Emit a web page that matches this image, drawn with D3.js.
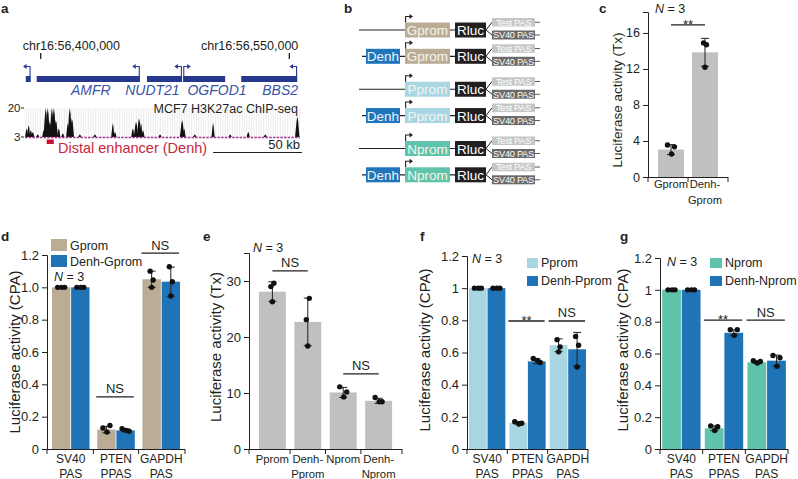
<!DOCTYPE html>
<html><head><meta charset="utf-8">
<script src="https://cdn.jsdelivr.net/npm/d3@7"></script>
<style>
body{margin:0;background:#fff;}
svg{display:block;}
</style></head><body>
<svg id="fig" width="798" height="479"></svg>
<script>
// ================= DATA =================
// ---- panel a ----
const chrTickPos = [56400000, 56550000];
const chrTickLabels = ["chr16:56,400,000", "chr16:56,550,000"];
const geneNames   = ["", "AMFR", "NUDT21", "OGFOD1", "BBS2"];
const geneStart   = [56391000, 56397600, 56464100, 56485900, 56521000];
const geneEnd     = [56394000, 56459900, 56485300, 56511300, 56554800];
const geneStrand  = ["-", "-", "-", "+", "-"];
const geneLabelAt = [null, 56430200, 56467400, 56506400, 56544500];
const chipPeakKb  = [-8.5,-7.3,-6.0,-4.8,-1.8,1.8,3.0,4.2,5.4,6.7,7.9,9.1,10.9,13.3,16.3,17.5,18.8,23.6,32.7,43.5,44.8,55.6,57.5,59.3,60.5,61.7,72,85.3,86.5,93,104,114.3,125.2,135.5,154.8];
const chipPeakVal = [8,10,7,6,4.5,7,20,20,12,20,20,13,8,5,11,20,14,4.5,4.5,11,6,8,12,14,11,7,4.5,13,8,4.5,11,4.5,6,4.5,15];
const chipRange   = [3, 20];
const enhancerBp  = [56403600, 56407900];
const scaleBarKb  = 50;

// ---- panel b ----
const bHasEnh   = [0, 1, 0, 1, 0, 1];
const bPromoter = ["Gprom", "Gprom", "Pprom", "Pprom", "Nprom", "Nprom"];
const bPAS      = ["Test PAS", "SV40 PAS"];

// ---- panel c ----
const cCats   = ["Gprom", "Denh-Gprom"];
const cMeans  = [3.05, 13.85];
const cErr    = [0.55, 1.55];
const cPoints = [[3.55, 3.35, 2.55], [14.9, 14.7, 12.2]];
const cTicks  = [0, 4, 8, 12, 16];

// ---- panel d ----
const dGroups = ["SV40 PAS", "PTEN PPAS", "GAPDH PAS"];
const dSeries = ["Gprom", "Denh-Gprom"];
const dMeans  = [[1.0, 0.12, 1.05], [1.0, 0.115, 1.035]];
const dErr    = [[0, 0.02, 0.05], [0, 0.008, 0.09]];
const dPoints = [[[1, 1, 1], [0.13, 0.145, 0.105], [1.10, 1.045, 1.0]],
                 [[1, 1, 1], [0.125, 0.11, 0.115], [1.127, 1.035, 0.946]]];
const dTicks  = [0, 0.2, 0.4, 0.6, 0.8, 1.0, 1.2];

// ---- panel e ----
const eCats   = ["Pprom", "Denh-Pprom", "Nprom", "Denh-Nprom"];
const eMeans  = [28.1, 22.7, 10.1, 8.6];
const eErr    = [1.75, 4.25, 0.9, 0.45];
const ePoints = [[29.0, 29.6, 26.3], [23.1, 26.9, 18.4], [11.1, 10.2, 9.3], [9.2, 8.45, 8.45]];
const eTicks  = [0, 10, 20, 30];

// ---- panel f ----
const fGroups = ["SV40 PAS", "PTEN PPAS", "GAPDH PAS"];
const fSeries = ["Pprom", "Denh-Pprom"];
const fMeans  = [[1.0, 0.163, 0.645], [1.0, 0.545, 0.62]];
const fErr    = [[0, 0.008, 0.04], [0, 0.015, 0.105]];
const fPoints = [[[1, 1, 1], [0.17, 0.16, 0.155], [0.68, 0.635, 0.604]],
                 [[1, 1, 1], [0.563, 0.538, 0.55], [0.70, 0.645, 0.51]]];
const fTicks  = [0, 0.2, 0.4, 0.6, 0.8, 1, 1.2];

// ---- panel g ----
const gGroups = ["SV40 PAS", "PTEN PPAS", "GAPDH PAS"];
const gSeries = ["Nprom", "Denh-Nprom"];
const gMeans  = [[1.0, 0.13, 0.545], [1.0, 0.73, 0.555]];
const gErr    = [[0, 0.015, 0.008], [0, 0.018, 0.035]];
const gPoints = [[[1, 1, 1], [0.145, 0.14, 0.116], [0.555, 0.55, 0.54]],
                 [[1, 1, 1], [0.75, 0.75, 0.714], [0.587, 0.573, 0.52]]];
const gTicks  = [0, 0.2, 0.4, 0.6, 0.8, 1, 1.2];

// ================= STYLE =================
const FONT = "'Liberation Sans', Arial, Helvetica, sans-serif";
const INK = "#231f20";
const COL = {
  grey: "#c0c0c0", tan: "#bbad95", blue: "#1f73b7", lightblue: "#a8d6e2", teal: "#60c4ac",
  denh: "#1f74ba", rluc: "#231f20", testpas: "#c6c6c6", sv40pas: "#6a6a6a",
  navy: "#27388f", geneText: "#3953a4", red: "#c8283c", magenta: "#a8338f"
};
const promColor = {Gprom: COL.tan, Pprom: COL.lightblue, Nprom: COL.teal};

const svg = d3.select("#fig").style("font-family", FONT);

function letter(t, x, y) {
  svg.append("text").attr("x", x).attr("y", y).attr("font-size", 13.5)
     .attr("font-weight", "bold").attr("fill", INK).text(t);
}
function nLabel(x, y, size) {
  const t = svg.append("text").attr("x", x).attr("y", y).attr("font-size", size).attr("fill", INK);
  t.append("tspan").attr("font-style", "italic").text("N");
  t.append("tspan").text(" = 3");
}

// ================= PANEL a =================
(function () {
  const g = svg.append("g");
  const gx = d3.scaleLinear().domain(chrTickPos).range([40.7, 289.3]);
  chrTickPos.forEach((p, i) => {
    g.append("line").attr("x1", gx(p)).attr("x2", gx(p)).attr("y1", 53).attr("y2", 59)
      .attr("stroke", INK).attr("stroke-width", 1.3);
    g.append("text").attr("x", i === 0 ? gx(p) - 18 : gx(p) + 9).attr("y", 50)
      .attr("text-anchor", i === 0 ? "start" : "end").attr("font-size", 12.5).attr("fill", INK)
      .text(chrTickLabels[i]);
  });
  geneNames.forEach((n, i) => {
    const xs = gx(geneStart[i]), xe = gx(geneEnd[i]);
    g.append("rect").attr("x", xs).attr("y", 76).attr("width", xe - xs).attr("height", 6).attr("fill", COL.navy);
    const tss = geneStrand[i] === "-" ? xe - 0.7 : xs + 0.7;
    const dir = geneStrand[i] === "-" ? -1 : 1;
    g.append("path").attr("d", `M${tss},76 V66.5 H${tss + dir * 4}`).attr("fill", "none")
      .attr("stroke", COL.navy).attr("stroke-width", 1.1);
    g.append("path").attr("d", `M${tss + dir * 7},66.5 L${tss + dir * 3.5},64 L${tss + dir * 3.5},69 Z`).attr("fill", COL.navy);
    if (n) {
      g.append("text").attr("x", gx(geneLabelAt[i])).attr("y", 95).attr("text-anchor", "middle")
        .attr("font-size", 14).attr("font-style", "italic").attr("fill", COL.geneText).text(n);
    }
  });
  const x0 = 25, x1 = 300;
  const cy = d3.scaleLinear().domain(chipRange).range([137, 108]).clamp(true);
  g.selectAll("line.bg").data(d3.range(x0 + 1, x1, 2.4)).join("line")
    .attr("x1", d => d).attr("x2", d => d).attr("y1", cy(chipRange[1])).attr("y2", cy(chipRange[0]))
    .attr("stroke", "#dedede").attr("stroke-width", 0.6);
  const area = d3.area().x(d => d[0]).y0(cy(chipRange[0])).y1(d => d[1]);
  chipPeakKb.forEach((kb, i) => {
    const px = gx(chrTickPos[0] + kb * 1000);
    const w = chipPeakVal[i] >= 12 ? 2.2 : 1.6;
    g.append("path").attr("d", area([[px - w, cy(3)], [px - w * 0.35, cy(chipPeakVal[i] * 0.75 + 0.75)], [px, cy(chipPeakVal[i])], [px + w * 0.4, cy(chipPeakVal[i] * 0.8 + 0.6)], [px + w, cy(3)]]))
      .attr("fill", "#111");
  });
  g.append("line").attr("x1", x0).attr("x2", x1).attr("y1", 137.5).attr("y2", 137.5)
    .attr("stroke", COL.magenta).attr("stroke-width", 1.4).attr("stroke-dasharray", "2.5,1.2");
  [[chipRange[1], "20"], [chipRange[0], "3"]].forEach(([v, t]) => {
    g.append("text").attr("x", 20.5).attr("y", cy(v) + 4).attr("text-anchor", "end")
      .attr("font-size", 11.5).attr("fill", INK).text(t);
    g.append("line").attr("x1", 21).attr("x2", 24).attr("y1", cy(v)).attr("y2", cy(v)).attr("stroke", INK).attr("stroke-width", 1);
  });
  g.append("text").attr("x", 298).attr("y", 113).attr("text-anchor", "end").attr("font-size", 12.5)
    .attr("fill", INK).text("MCF7 H3K27ac ChIP-seq");
  g.append("rect").attr("x", gx(enhancerBp[0])).attr("y", 139.5).attr("width", gx(enhancerBp[1]) - gx(enhancerBp[0]))
    .attr("height", 4.5).attr("fill", "#c8102e");
  g.append("text").attr("x", 58).attr("y", 152.5).attr("font-size", 14.5).attr("fill", COL.red)
    .text("Distal enhancer (Denh)");
  const sbPx = gx(chrTickPos[0] + scaleBarKb * 1000) - gx(chrTickPos[0]);
  g.append("line").attr("x1", 302 - sbPx - 6).attr("x2", 302).attr("y1", 152.5).attr("y2", 152.5)
    .attr("stroke", INK).attr("stroke-width", 1.1);
  g.append("text").attr("x", 300).attr("y", 148.5).attr("text-anchor", "end").attr("font-size", 13)
    .attr("fill", INK).text(scaleBarKb + " kb");
})();
letter("a", 1, 13);

// ================= PANEL b =================
(function () {
  const g = svg.append("g");
  const pair = d3.scalePoint().domain([0, 1, 2]).range([30, 148.5]);
  bPromoter.forEach((p, i) => {
    const cyr = pair(Math.floor(i / 2)) + (i % 2) * 26.3;
    const enh = bHasEnh[i];
    const xStart = enh ? 362 : 359;
    g.append("line").attr("x1", xStart).attr("x2", 486).attr("y1", cyr).attr("y2", cyr)
      .attr("stroke", INK).attr("stroke-width", 1.2);
    if (enh) {
      g.append("rect").attr("x", 366).attr("y", cyr - 7.5).attr("width", 34).attr("height", 15).attr("fill", COL.denh);
      g.append("text").attr("x", 383).attr("y", cyr + 5).attr("text-anchor", "middle").attr("font-size", 13.5)
        .attr("fill", "#eaf4fb").text("Denh");
    }
    g.append("rect").attr("x", 405).attr("y", cyr - 7.5).attr("width", 45).attr("height", 15).attr("fill", promColor[p]);
    g.append("text").attr("x", 427.5).attr("y", cyr + 5).attr("text-anchor", "middle").attr("font-size", 13.5)
      .attr("fill", "#f7f5f0").text(p);
    g.append("path").attr("d", `M405.6,${cyr - 7.5} V${cyr - 13.5} H410`).attr("fill", "none")
      .attr("stroke", INK).attr("stroke-width", 1.1);
    g.append("path").attr("d", `M413,${cyr - 13.5} L409.5,${cyr - 16} L409.5,${cyr - 11} Z`).attr("fill", INK);
    g.append("rect").attr("x", 455).attr("y", cyr - 7.5).attr("width", 31).attr("height", 15).attr("fill", COL.rluc);
    g.append("text").attr("x", 470.5).attr("y", cyr + 5).attr("text-anchor", "middle").attr("font-size", 13.5)
      .attr("fill", "#fff").text("Rluc");
    const pasY = [cyr - 12, cyr + 0.5], pasH = [8.5, 9];
    const pasCol = [COL.testpas, COL.sv40pas];
    bPAS.forEach((t, k) => {
      const mid = pasY[k] + pasH[k] / 2;
      g.append("line").attr("x1", 486).attr("y1", cyr).attr("x2", 492).attr("y2", mid)
        .attr("stroke", INK).attr("stroke-width", 1);
      g.append("rect").attr("x", 492).attr("y", pasY[k]).attr("width", 43).attr("height", pasH[k]).attr("fill", pasCol[k]);
      g.append("line").attr("x1", 535).attr("x2", 540).attr("y1", mid).attr("y2", mid).attr("stroke", "#555").attr("stroke-width", 1);
      g.append("text").attr("x", 513.5).attr("y", mid + 3.3).attr("text-anchor", "middle").attr("font-size", 9.3)
        .attr("letter-spacing", -0.3).attr("fill", "#fff").text(t);
    });
  });
})();
letter("b", 344, 13);

// ================= BAR PANELS =================
function splitLabel(s) {
  if (s.includes(" ")) return s.split(" ");
  if (s.includes("-")) { const k = s.indexOf("-"); return [s.slice(0, k + 1), s.slice(k + 1)]; }
  return [s];
}
function jitterFor(pys) {
  const r = d3.max(pys) - d3.min(pys);
  return r < 11 ? [-3.5, 3.5, 0.5] : [-1.5, 1.5, 0];
}
function barPanel(c) {
  const g = svg.append("g");
  const y = d3.scaleLinear().domain([0, c.yMax]).range([c.y0, c.yTop]);
  const x0 = d3.scaleBand().domain(c.groups).range([c.xStart, c.xEnd]).paddingInner(c.padIn).paddingOuter(c.padOut);
  const x1 = d3.scaleBand().domain(c.series).range([0, x0.bandwidth()]).paddingInner(c.series.length > 1 ? 0.04 : 0);
  c.series.forEach((s, si) => {
    c.groups.forEach((gr, gi) => {
      const m = c.means[si][gi];
      const bx = x0(gr) + x1(s), bw = x1.bandwidth(), cx = bx + bw / 2;
      g.append("rect").attr("x", bx).attr("y", y(m)).attr("width", bw).attr("height", c.y0 - y(m)).attr("fill", c.colors[si]);
      const e = c.err[si][gi];
      if (e > 0) {
        g.append("path").attr("d", `M${cx},${y(m - e)} V${y(m + e)} M${cx - 4},${y(m - e)} H${cx + 4} M${cx - 4},${y(m + e)} H${cx + 4}`)
          .attr("stroke", INK).attr("stroke-width", 1).attr("fill", "none");
      }
      const pts = c.points[si][gi];
      const jit = jitterFor(pts.map(v => y(v)));
      pts.forEach((v, k) => {
        g.append("circle").attr("cx", cx + jit[k]).attr("cy", y(v)).attr("r", 2.7).attr("fill", "#111");
      });
    });
  });
  const ax = d3.axisLeft(y).tickValues(c.ticks).tickFormat(c.fmt).tickSizeOuter(0).tickSize(5).tickPadding(3);
  const ga = g.append("g").attr("transform", `translate(${c.xStart},0)`).call(ax);
  ga.selectAll("text").attr("font-size", c.tickFont).attr("font-family", FONT).attr("fill", INK);
  ga.selectAll("line").attr("stroke", INK);
  ga.select(".domain").attr("stroke", INK);
  g.append("line").attr("x1", c.xStart).attr("x2", c.xEnd).attr("y1", c.y0 + 0.5).attr("y2", c.y0 + 0.5).attr("stroke", INK);
  const bounds = [c.xStart];
  for (let i = 1; i < c.groups.length; i++) bounds.push((x0(c.groups[i - 1]) + x0.bandwidth() + x0(c.groups[i])) / 2);
  bounds.push(c.xEnd);
  bounds.forEach(b => g.append("line").attr("x1", b).attr("x2", b).attr("y1", c.y0).attr("y2", c.y0 + 5).attr("stroke", INK));
  c.groups.forEach(gr => {
    const lines = splitLabel(gr);
    lines.forEach((ln, k) => {
      g.append("text").attr("x", x0(gr) + x0.bandwidth() / 2).attr("y", c.y0 + c.lab1 + k * c.labStep)
        .attr("text-anchor", "middle").attr("font-size", c.labFont).attr("fill", INK).text(ln);
    });
  });
  g.append("text").attr("transform", `translate(${c.titleX},${c.titleY}) rotate(-90)`).attr("dy", "0.35em")
    .attr("text-anchor", "middle").attr("font-size", c.titleFont).attr("fill", INK).text(c.title);
  c.sig.forEach(s => {
    let xa, xb;
    if (Array.isArray(s.g)) {
      xa = x0(c.groups[s.g[0]]) + x0.bandwidth() / 2; xb = x0(c.groups[s.g[1]]) + x0.bandwidth() / 2;
    } else { xa = x0(c.groups[s.g]) - 1; xb = x0(c.groups[s.g]) + x0.bandwidth() - 1; }
    const ly = y(s.yv);
    g.append("line").attr("x1", xa).attr("x2", xb).attr("y1", ly).attr("y2", ly).attr("stroke", INK).attr("stroke-width", 1.3);
    g.append("text").attr("x", (xa + xb) / 2).attr("y", s.t === "**" ? ly + 3.8 : ly - 3.5).attr("text-anchor", "middle")
      .attr("font-size", 13).attr("fill", INK).text(s.t);
  });
  if (c.legend) {
    c.series.forEach((s, si) => {
      const L = c.legend;
      g.append("rect").attr("x", L.x).attr("y", L.y + si * L.dy).attr("width", L.w).attr("height", L.h).attr("fill", c.colors[si]);
      g.append("text").attr("x", L.x + L.w + 3).attr("y", L.y + si * L.dy + L.h - 1).attr("font-size", 12.5)
        .attr("fill", INK).text(s);
    });
  }
}
const fmtD = v => v === 0 ? "0" : d3.format(".1f")(v);
const fmtG = v => d3.format("~g")(v);
const one = a => [a];

barPanel({ groups: cCats, series: ["c"], means: one(cMeans), err: one(cErr), points: one(cPoints),
  colors: [COL.grey], xStart: 648, xEnd: 728, padIn: 0.235, padOut: 0.294, y0: 177, yTop: 12, yMax: 18.33,
  ticks: cTicks, fmt: d3.format("d"), tickFont: 12.5, lab1: 11, labStep: 16, labFont: 11.2,
  title: "Luciferase activity (Tx)", titleX: 617, titleY: 100, titleFont: 13.5,
  sig: [{ g: [0, 1], yv: 16.9, t: "**" }] });
letter("c", 599, 13); nLabel(655, 13, 12.5);

barPanel({ groups: dGroups, series: dSeries, means: dMeans, err: dErr, points: dPoints,
  colors: [COL.tan, COL.blue], xStart: 47, xEnd: 185, padIn: 0.17, padOut: 0.11, y0: 449, yTop: 255, yMax: 1.2,
  ticks: dTicks, fmt: fmtD, tickFont: 13, lab1: 14, labStep: 14.5, labFont: 12,
  title: "Luciferase activity (CPA)", titleX: 15, titleY: 352, titleFont: 15,
  sig: [{ g: 1, yv: 0.322, t: "NS" }, { g: 2, yv: 1.212, t: "NS" }],
  legend: { x: 51, y: 239, w: 16, h: 12, dy: 16 } });
letter("d", 1, 241); nLabel(54, 281, 12.5);

barPanel({ groups: eCats, series: ["e"], means: one(eMeans), err: one(eErr), points: one(ePoints),
  colors: [COL.grey], xStart: 249, xEnd: 402, padIn: 0.24, padOut: 0.28, y0: 449, yTop: 253, yMax: 35,
  ticks: eTicks, fmt: d3.format("d"), tickFont: 13, lab1: 14, labStep: 14.5, labFont: 11.3,
  title: "Luciferase activity (Tx)", titleX: 216, titleY: 347, titleFont: 15,
  sig: [{ g: [0, 1], yv: 31.8, t: "NS" }, { g: [2, 3], yv: 13.4, t: "NS" }] });
letter("e", 203, 241); nLabel(253, 252, 12.5);

barPanel({ groups: fGroups, series: fSeries, means: fMeans, err: fErr, points: fPoints,
  colors: [COL.lightblue, COL.blue], xStart: 467, xEnd: 588, padIn: 0.1, padOut: 0.05, y0: 449, yTop: 256, yMax: 1.2,
  ticks: fTicks, fmt: fmtG, tickFont: 13, lab1: 14, labStep: 14.5, labFont: 12,
  title: "Luciferase activity (CPA)", titleX: 425, titleY: 350, titleFont: 15,
  sig: [{ g: 1, yv: 0.796, t: "**" }, { g: 2, yv: 0.796, t: "NS" }],
  legend: { x: 527, y: 258, w: 11, h: 10, dy: 18 } });
letter("f", 420, 241); nLabel(472, 263, 12.5);

barPanel({ groups: gGroups, series: gSeries, means: gMeans, err: gErr, points: gPoints,
  colors: [COL.teal, COL.blue], xStart: 660, xEnd: 788, padIn: 0.1, padOut: 0.05, y0: 449, yTop: 258, yMax: 1.2,
  ticks: gTicks, fmt: fmtG, tickFont: 13, lab1: 14, labStep: 14.5, labFont: 12,
  title: "Luciferase activity (CPA)", titleX: 623, titleY: 350, titleFont: 15,
  sig: [{ g: 1, yv: 0.81, t: "**" }, { g: 2, yv: 0.81, t: "NS" }],
  legend: { x: 710, y: 258, w: 12, h: 10, dy: 18 } });
letter("g", 620, 241); nLabel(667, 266, 12.5);
</script>
</body></html>
